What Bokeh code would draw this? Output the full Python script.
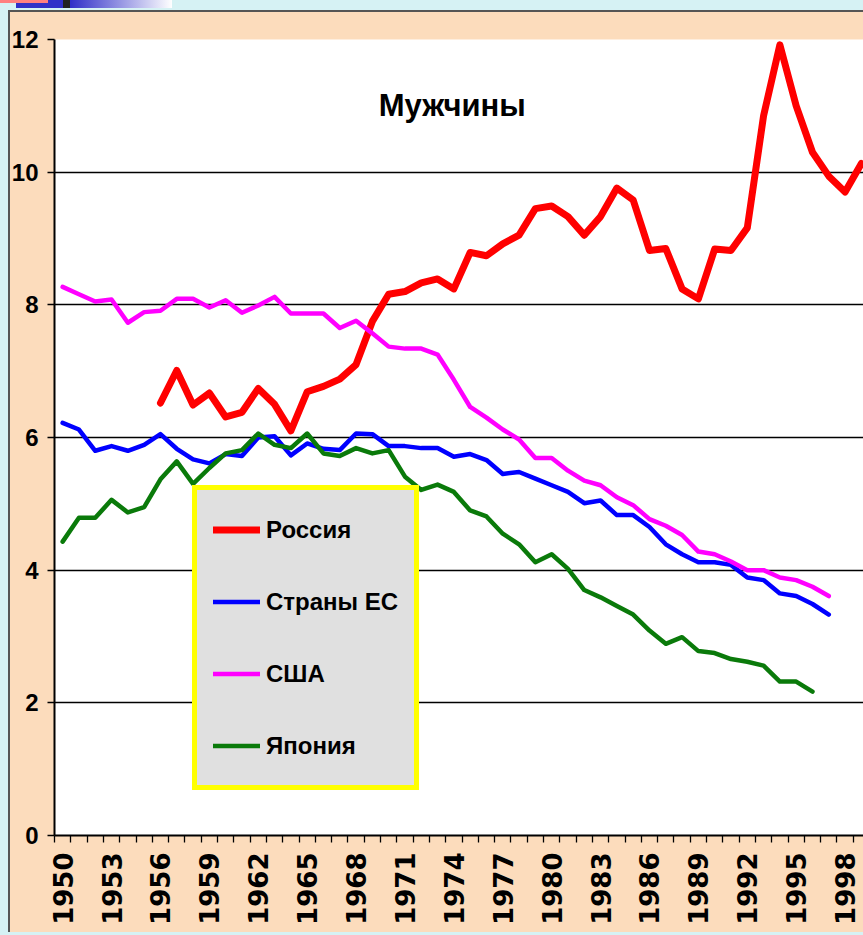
import numpy as np
from bokeh.plotting import figure
from bokeh.models import Range1d, FixedTicker, Legend, LegendItem, Label
from bokeh.embed import file_html
from bokeh.resources import INLINE

# ---- data ----
years_russia = list(range(1956, 2000))
russia = [6.52, 7.01, 6.49, 6.67, 6.31, 6.38, 6.74, 6.50, 6.10, 6.69, 6.77, 6.88, 7.10, 7.75,
          8.16, 8.20, 8.33, 8.39, 8.24, 8.79, 8.74, 8.92, 9.05, 9.45, 9.49, 9.33, 9.05, 9.33,
          9.76, 9.58, 8.82, 8.85, 8.24, 8.09, 8.84, 8.82, 9.16, 10.85, 11.92, 11.00, 10.30,
          9.94, 9.70, 10.13]

years_eu = list(range(1950, 1998))
eu = [6.22, 6.12, 5.80, 5.87, 5.80, 5.89, 6.05, 5.83, 5.67, 5.61, 5.75, 5.72, 6.00, 6.02,
      5.73, 5.91, 5.83, 5.81, 6.06, 6.05, 5.87, 5.87, 5.84, 5.84, 5.71, 5.75, 5.66, 5.45,
      5.48, 5.38, 5.28, 5.18, 5.01, 5.05, 4.83, 4.83, 4.65, 4.39, 4.24, 4.12, 4.12, 4.08,
      3.89, 3.85, 3.65, 3.61, 3.49, 3.33]

years_usa = list(range(1950, 1998))
usa = [8.27, 8.16, 8.05, 8.08, 7.73, 7.89, 7.91, 8.09, 8.09, 7.96, 8.07, 7.88, 7.99, 8.12,
       7.87, 7.87, 7.87, 7.65, 7.76, 7.57, 7.37, 7.34, 7.34, 7.25, 6.87, 6.46, 6.30, 6.12,
       5.97, 5.69, 5.69, 5.50, 5.35, 5.28, 5.10, 4.98, 4.77, 4.67, 4.53, 4.28, 4.24, 4.13,
       4.00, 4.00, 3.89, 3.85, 3.75, 3.61]

years_japan = list(range(1950, 1997))
japan = [4.43, 4.79, 4.79, 5.06, 4.87, 4.95, 5.37, 5.64, 5.30, 5.54, 5.76, 5.81, 6.06, 5.89,
         5.84, 6.06, 5.76, 5.72, 5.84, 5.76, 5.81, 5.41, 5.21, 5.29, 5.18, 4.90, 4.81, 4.55,
         4.39, 4.12, 4.24, 4.02, 3.70, 3.59, 3.46, 3.33, 3.09, 2.89, 2.99, 2.78, 2.75, 2.66,
         2.62, 2.56, 2.32, 2.32, 2.17]

series_names = ["Россия", "Страны ЕС", "США", "Япония"]
series_colors = ["#ff0000", "#0000ff", "#ff00ff", "#0a7a0a"]
series_widths = [7, 4.5, 4.5, 4.5]

x_tick_years = list(range(1950, 2000, 3))
x_category_edges = [y - 0.5 for y in range(1950, 2001)]
y_ticks = [0, 2, 4, 6, 8, 10, 12]
chart_title = "Мужчины"

FONT = "Liberation Sans"
CYAN = "#d6f2f4"
PEACH = "#fcdcbc"

p = figure(width=863, height=935, output_backend="svg", toolbar_location=None,
           x_range=Range1d(1949.5, 1999.13), y_range=Range1d(0, 12),
           min_border_left=54, min_border_right=0, min_border_top=39, min_border_bottom=100)

# slide-like surroundings painted behind a transparent canvas border
p.border_fill_alpha = 0
p.styles = {
    "background": (
        "linear-gradient(#ff8080,#ff8080) 0 0/48px 3px no-repeat, "
        "linear-gradient(#222222,#222222) 63px 0/7px 8px no-repeat, "
        "linear-gradient(to right,#3030c8 35%,#ffffff) 16px 0/156px 8px no-repeat, "
        f"linear-gradient({CYAN},{CYAN}) 0 0/100% 10px no-repeat, "
        f"linear-gradient({CYAN},{CYAN}) 0 0/8px 100% no-repeat, "
        f"linear-gradient({CYAN},{CYAN}) 0 100%/100% 3px no-repeat, "
        "linear-gradient(#555555,#555555) 8px 10px/100% 2px no-repeat, "
        "linear-gradient(#555555,#555555) 8px 10px/2px 100% no-repeat, "
        f"{PEACH}"
    )
}
p.background_fill_color = "#ffffff"
p.outline_line_color = None

# grid
p.xgrid.visible = False
p.ygrid.ticker = FixedTicker(ticks=y_ticks)
p.ygrid.grid_line_color = "#000000"
p.ygrid.grid_line_width = 1.6

# x axis
xa = p.xaxis[0]
xa.ticker = FixedTicker(ticks=x_tick_years, minor_ticks=x_category_edges)
xa.axis_line_color = "#000000"
xa.axis_line_width = 2
xa.major_tick_out = 0
xa.major_tick_in = 0
xa.minor_tick_out = 7
xa.minor_tick_in = 0
xa.minor_tick_line_color = "#000000"
xa.minor_tick_line_width = 1.3
xa.major_label_orientation = np.pi / 2
xa.major_label_standoff = 10
xa.major_label_text_font = "DejaVu Sans"
xa.major_label_text_font_style = "bold"
xa.major_label_text_font_size = "26px"
xa.major_label_text_color = "#000000"

# y axis
ya = p.yaxis[0]
ya.ticker = FixedTicker(ticks=y_ticks)
ya.axis_line_color = "#000000"
ya.axis_line_width = 2
ya.major_tick_out = 7
ya.major_tick_in = 0
ya.major_tick_line_color = "#000000"
ya.major_tick_line_width = 1.6
ya.minor_tick_out = 0
ya.minor_tick_in = 0
ya.major_label_standoff = 9
ya.major_label_text_font = FONT
ya.major_label_text_font_style = "bold"
ya.major_label_text_font_size = "24px"
ya.major_label_text_color = "#000000"

# lines
renderers = []
for xs, ys, color, w in zip([years_russia, years_eu, years_usa, years_japan],
                            [russia, eu, usa, japan], series_colors, series_widths):
    r = p.line(xs, ys, line_color=color, line_width=w, line_join="round", line_cap="round")
    renderers.append(r)

# title inside the plot
p.add_layout(Label(x=1973.9, y=11.0, text=chart_title, text_align="center",
                   text_baseline="middle", text_font=FONT, text_font_style="bold",
                   text_font_size="31px", text_color="#000000"))

# legend
legend = Legend(items=[LegendItem(label=n, renderers=[r]) for n, r in zip(series_names, renderers)],
                location=(138, 45), orientation="vertical")
legend.label_text_font = FONT
legend.label_text_font_style = "bold"
legend.label_text_font_size = "24px"
legend.label_text_color = "#000000"
legend.glyph_width = 47
legend.glyph_height = 47
legend.label_height = 47
legend.label_standoff = 6
legend.spacing = 25
legend.padding = 16
legend.margin = 0
legend.border_line_color = "#ffff00"
legend.border_line_alpha = 1.0
legend.border_line_width = 5
legend.background_fill_color = "#e0e0e0"
legend.background_fill_alpha = 1.0
p.add_layout(legend)

open("out.html", "w").write(file_html(p, INLINE))
